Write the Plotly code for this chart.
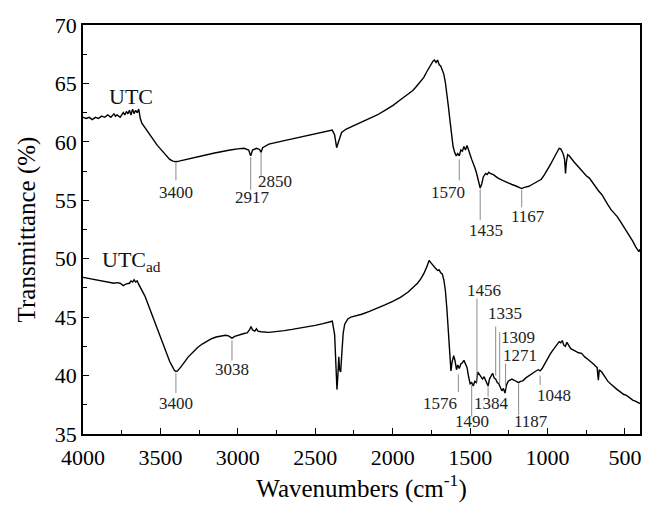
import plotly.graph_objects as go

# FTIR spectrum of UTC (wavenumber cm-1, transmittance %)
utc_wn = [4000, 3980, 3960, 3940, 3920, 3900, 3880, 3860, 3840, 3820, 3800, 3790, 3780, 3760,
          3740, 3730, 3720, 3710, 3700, 3690, 3680, 3670, 3660, 3650, 3640, 3630, 3620, 3600,
          3580, 3560, 3540, 3520, 3500, 3480, 3460, 3440, 3420, 3400, 3380, 3350, 3300, 3250,
          3200, 3150, 3100, 3050, 3000, 2960, 2930, 2917, 2905, 2880, 2860, 2850, 2840, 2800,
          2700, 2600, 2500, 2420, 2390, 2375, 2362, 2355, 2345, 2330, 2300, 2250, 2200, 2150,
          2100, 2050, 2000, 1950, 1900, 1870, 1850, 1820, 1800, 1780, 1760, 1750, 1740, 1730,
          1720, 1710, 1700, 1690, 1680, 1670, 1660, 1650, 1640, 1630, 1620, 1610, 1600, 1590,
          1580, 1570, 1560, 1550, 1540, 1530, 1520, 1510, 1500, 1490, 1480, 1470, 1460, 1450,
          1440, 1435, 1425, 1415, 1400, 1390, 1380, 1370, 1350, 1320, 1290, 1260, 1230, 1200,
          1180, 1167, 1150, 1120, 1100, 1080, 1060, 1040, 1020, 1000, 980, 960, 940, 925,
          915, 900, 890, 884, 878, 870, 860, 850, 830, 810, 790, 770, 750, 730,
          710, 690, 670, 650, 630, 610, 590, 570, 550, 530, 510, 490, 470, 450,
          430, 410, 403]
utc_t = [62.1, 62.0, 62.1, 61.9, 62.1, 62.0, 62.2, 62.1, 62.3, 62.1, 62.4, 62.2, 62.3, 62.1,
         62.5, 62.3, 62.6, 62.4, 62.7, 62.3, 62.8, 62.4, 62.7, 62.5, 62.8, 62.0, 61.6, 61.2,
         60.9, 60.5, 60.0, 59.7, 59.4, 59.1, 58.8, 58.5, 58.35, 58.3, 58.35, 58.45, 58.6, 58.75,
         58.9, 59.05, 59.2, 59.3, 59.4, 59.45, 59.3, 58.8, 59.3, 59.45, 59.35, 59.1, 59.5, 59.8,
         60.1, 60.4, 60.7, 60.95, 61.0, 60.6, 59.5, 59.8, 60.3, 60.8, 61.1, 61.4, 61.65, 61.95,
         62.3, 62.7, 63.1, 63.6, 64.1, 64.4, 64.7, 65.2, 65.5, 66.0, 66.5, 66.7, 66.9, 67.0,
         66.8, 67.0, 66.6, 66.5, 66.2, 65.8, 65.1, 64.2, 63.0, 61.8, 60.6, 59.6, 59.1, 58.8,
         59.0, 58.8, 59.3, 59.2, 59.6, 59.3, 59.7, 59.2, 58.9, 58.5, 58.2, 57.8, 57.4, 56.8,
         56.3, 56.05, 56.4, 57.0, 57.3, 57.2, 57.4, 57.3, 57.2, 56.9, 56.7, 56.5, 56.35, 56.2,
         56.1, 56.0, 56.1, 56.2, 56.35, 56.5, 56.6, 56.8, 57.2, 57.6, 58.1, 58.6, 59.1, 59.45,
         59.4, 59.0, 58.5, 57.3, 58.3, 58.9, 58.8, 58.6, 58.3, 58.0, 57.7, 57.4, 57.1, 56.9,
         56.5, 56.1, 55.8, 55.5, 55.0, 54.6, 54.2, 53.9, 53.6, 53.2, 52.8, 52.3, 52.0, 51.5,
         51.0, 50.6, 50.8]

# FTIR spectrum of UTCad
utcad_wn = [4000, 3980, 3960, 3940, 3920, 3900, 3880, 3860, 3840, 3820, 3800, 3780, 3760, 3740,
            3720, 3700, 3690, 3680, 3670, 3660, 3650, 3640, 3620, 3600, 3580, 3560, 3540, 3520,
            3500, 3480, 3460, 3440, 3420, 3410, 3400, 3390, 3370, 3350, 3320, 3290, 3260, 3230,
            3200, 3170, 3140, 3110, 3080, 3060, 3038, 3020, 3000, 2980, 2960, 2940, 2925, 2915,
            2905, 2890, 2880, 2870, 2850, 2800, 2750, 2700, 2650, 2600, 2550, 2500, 2450, 2410,
            2390, 2375, 2368, 2360, 2354, 2348, 2343, 2336, 2328, 2320, 2310, 2290, 2270, 2240,
            2200, 2150, 2100, 2050, 2000, 1950, 1900, 1870, 1840, 1820, 1800, 1780, 1765, 1750,
            1740, 1725, 1710, 1700, 1690, 1680, 1670, 1660, 1650, 1640, 1630, 1624, 1616, 1606,
            1598, 1588, 1580, 1570, 1560, 1550, 1540, 1530, 1520, 1510, 1500, 1490, 1480, 1470,
            1460, 1450, 1440, 1430, 1420, 1410, 1400, 1390, 1384, 1375, 1365, 1355, 1345, 1335,
            1325, 1315, 1305, 1295, 1285, 1275, 1265, 1255, 1245, 1230, 1215, 1200, 1187, 1175,
            1160, 1140, 1120, 1100, 1080, 1060, 1048, 1035, 1020, 1000, 985, 970, 955, 940,
            925, 915, 905, 895, 885, 875, 865, 850, 835, 820, 800, 780, 760, 740,
            720, 700, 690, 680, 672, 666, 650, 630, 610, 590, 570, 550, 530, 510,
            490, 470, 450, 430, 410, 403]
utcad_t = [48.4, 48.35, 48.3, 48.3, 48.2, 48.2, 48.1, 48.05, 48.0, 47.95, 47.9, 47.95, 47.9, 47.7,
           47.85, 47.9, 48.1, 48.0, 48.2, 48.0, 48.1, 47.8, 47.3, 46.8, 46.1, 45.4, 44.6, 43.9,
           43.2, 42.5, 41.8, 41.2, 40.7, 40.45, 40.35, 40.4, 40.7, 41.1, 41.6, 42.0, 42.4, 42.7,
           42.95, 43.15, 43.3, 43.4, 43.45, 43.4, 43.2, 43.35, 43.45, 43.55, 43.6, 43.65, 43.9, 44.2,
           43.9, 43.8, 44.0, 43.8, 43.75, 43.7, 43.75, 43.85, 43.95, 44.05, 44.15, 44.3, 44.45, 44.6,
           44.65, 43.5, 40.5, 38.8, 40.0, 41.6, 40.5, 40.3, 42.0, 43.6, 44.4, 44.85, 45.0, 45.1,
           45.25, 45.5, 45.75, 46.05, 46.35, 46.7, 47.15, 47.5, 47.9, 48.25, 48.7, 49.3, 49.85, 49.6,
           49.4, 49.2, 49.0, 49.05, 48.8, 48.7, 48.2, 47.3, 45.7, 43.2, 41.2, 40.4, 41.2, 41.7,
           41.3, 40.5, 40.9, 40.6, 41.0, 41.1, 41.3, 40.9, 40.7, 39.9, 39.3, 39.4, 39.1, 39.5,
           39.4, 40.3, 40.1, 40.0, 39.7, 39.9, 39.6, 39.2, 39.1, 39.7, 40.0, 40.2, 39.8, 39.7,
           39.4, 39.3, 39.0, 38.7, 38.9, 38.5, 39.2, 39.5, 39.6, 39.7, 39.6, 39.5, 39.4, 39.5,
           39.55, 39.8, 40.0, 40.2, 40.35, 40.5, 40.4, 40.6, 41.0, 41.4, 41.8, 42.1, 42.4, 42.6,
           42.9, 42.8, 43.0, 42.6, 42.5, 42.85, 42.6, 42.3, 42.2, 42.1, 41.95, 41.9, 41.6, 41.4,
           41.2, 40.95, 40.8, 40.7, 39.6, 40.5, 40.3, 39.9, 39.5, 39.25, 39.0, 38.8, 38.6, 38.4,
           38.3, 38.1, 37.9, 37.8, 37.7, 37.6]

# Band assignments: (wavenumber label, line top, line bottom, text x, text y)
utc_bands = [("3400", 58.2, 56.7, 3400, 55.7),
             ("2917", 58.7, 55.9, 2905, 55.2),
             ("2850", 59.1, 57.0, 2760, 56.6),
             ("1570", 58.5, 56.7, 1640, 55.7),
             ("1435", 55.95, 53.3, 1400, 52.4),
             ("1167", 55.9, 54.4, 1124, 53.6)]
utcad_bands = [("3400", 40.2, 38.5, 3400, 37.6),
               ("3038", 43.0, 41.3, 3038, 40.5),
               ("1576", 40.1, 38.6, 1695, 37.6),
               ("1490", 39.2, 36.5, 1490, 36.1),
               ("1456", 46.6, 39.4, 1413, 47.3),
               ("1384", 39.0, 38.2, 1365, 37.6),
               ("1335", 44.2, 40.0, 1277, 45.3),
               ("1309", 43.7, 39.3, 1194, 43.3),
               ("1271", 41.0, 38.9, 1175, 41.7),
               ("1187", 39.3, 36.6, 1105, 36.1),
               ("1048", 40.0, 39.2, 957, 38.3)]

FONT = "Liberation Serif, Times New Roman, serif"

fig = go.Figure()
fig.add_trace(go.Scatter(x=utc_wn, y=utc_t, mode="lines", name="UTC",
                         line=dict(color="black", width=1.4)))
fig.add_trace(go.Scatter(x=utcad_wn, y=utcad_t, mode="lines", name="UTCad",
                         line=dict(color="black", width=1.4)))

for label, y0, y1, tx, ty in utc_bands + utcad_bands:
    wn = float(label)
    fig.add_shape(type="line", x0=wn, x1=wn, y0=y0, y1=y1, xref="x", yref="y",
                  line=dict(color="#8a8a8a", width=1))
    fig.add_annotation(x=tx, y=ty, text=label, showarrow=False, xref="x", yref="y",
                       font=dict(family=FONT, size=17, color="#222222"))

fig.add_annotation(x=3846, y=63.9, text="UTC", showarrow=False, xanchor="left",
                   font=dict(family=FONT, size=22, color="#111111"))
fig.add_annotation(x=3890, y=49.8, text="UTC<sub>ad</sub>", showarrow=False, xanchor="left",
                   font=dict(family=FONT, size=22, color="#111111"))

axis_common = dict(showline=True, linecolor="black", linewidth=1.5, mirror=True,
                   ticks="inside", ticklen=6, tickwidth=1.3, tickcolor="black",
                   showgrid=False, zeroline=False,
                   tickfont=dict(family=FONT, size=22, color="black"))

fig.update_xaxes(range=[4000, 403], tickvals=[4000, 3500, 3000, 2500, 2000, 1500, 1000, 500],
                 ticklabelstandoff=3,
                 minor=dict(ticks="inside", ticklen=4, dtick=250, tick0=0, tickcolor="black"),
                 title=dict(text="Wavenumbers (cm<sup>-1</sup>)", standoff=4,
                            font=dict(family=FONT, size=25, color="black")),
                 **axis_common)
fig.update_yaxes(range=[35, 70], dtick=5, tick0=35,
                 minor=dict(ticks="inside", ticklen=4, dtick=2.5, tick0=35, tickcolor="black"),
                 title=dict(text="Transmittance (%)", standoff=12,
                            font=dict(family=FONT, size=25, color="black")),
                 **axis_common)

fig.update_layout(width=645, height=505, margin=dict(l=83, r=3, t=25, b=71),
                  plot_bgcolor="white", paper_bgcolor="white", showlegend=False)

fig.write_html("out.html")
